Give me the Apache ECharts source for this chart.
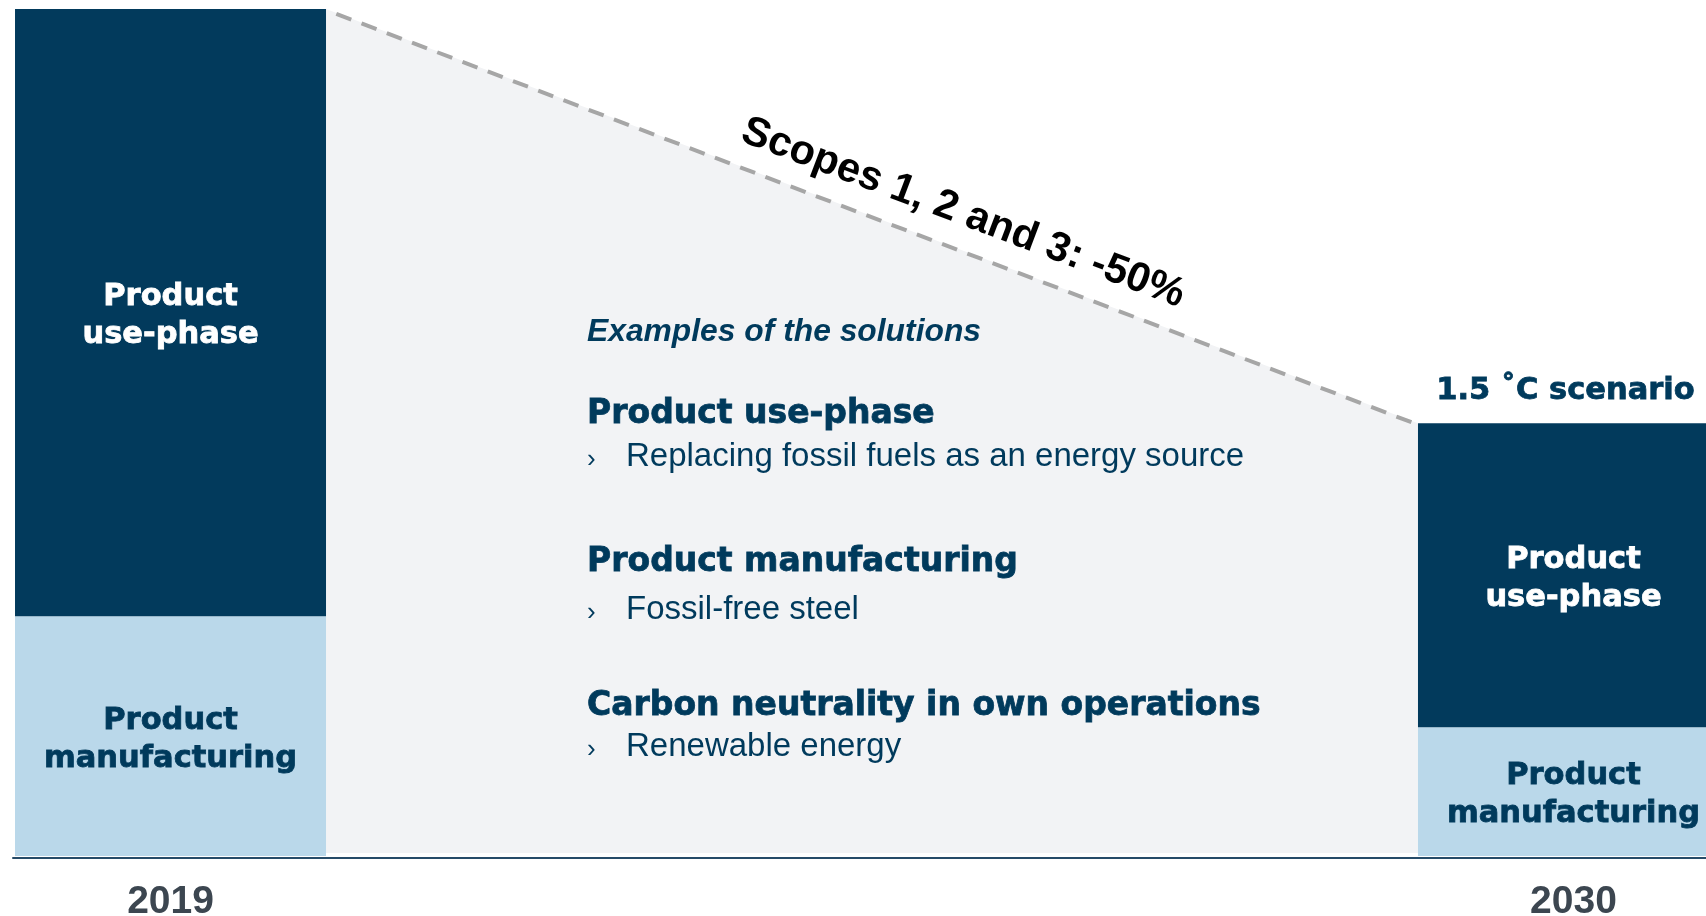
<!DOCTYPE html>
<html>
<head>
<meta charset="utf-8">
<script src="https://cdn.jsdelivr.net/npm/echarts@6/dist/echarts.min.js"></script>
<style>
html,body{margin:0;padding:0;background:#ffffff;}
#chart{width:1706px;height:916px;}
</style>
</head>
<body>
<div id="chart"></div>
<script>
// ---- data ----
const years = [2019, 2030];
const manufacturing = [28.3, 15.2];
const usePhase = [71.7, 35.9];
const seriesNames = ['Product manufacturing', 'Product use-phase'];
const barLabels = ['Product\nmanufacturing', 'Product\nuse-phase'];
const reductionLabel = 'Scopes 1, 2 and 3: -50%';
const scenarioLabel = '1.5 \u02DAC scenario';
const solutionsTitle = 'Examples of the solutions';
const solutionHeadings = ['Product use-phase', 'Product manufacturing', 'Carbon neutrality in own operations'];
const solutionItems = ['Replacing fossil fuels as an energy source', 'Fossil-free steel', 'Renewable energy'];

// ---- style ----
const NAVY = '#023A5C';
const LIGHT = '#BAD8EA';
const GRAY = '#F2F3F5';
const TEXT = '#003A5C';
const BAR_W = 311;
const HEAVY = '"DejaVu Sans", Verdana, sans-serif';
const SANS = '"Liberation Sans", Arial, Helvetica, sans-serif';

const totals = years.map((y, i) => manufacturing[i] + usePhase[i]);

const chart = echarts.init(document.getElementById('chart'), null, {renderer: 'canvas'});

const barLabelBase = {
  show: true,
  position: 'inside',
  offset: [0, 3.5],
  fontFamily: HEAVY,
  fontWeight: 'bold',
  fontSize: 30.5,
  lineHeight: 38,
  textBorderWidth: 0.8
};

// middle text block
const headingY = [414, 562, 706];
const itemY = [457, 610, 747];
const graphicEls = [{
  type: 'text', x: 587, y: 332, z: 100,
  style: {text: solutionsTitle, fill: TEXT, fontFamily: SANS, fontWeight: 'bold', fontStyle: 'italic', fontSize: 31.8, align: 'left', verticalAlign: 'middle'}
}];
solutionHeadings.forEach((h, i) => {
  graphicEls.push({
    type: 'text', x: 587, y: headingY[i], z: 100,
    style: {text: h, fill: TEXT, stroke: TEXT, lineWidth: 0.8, fontFamily: HEAVY, fontWeight: 'bold', fontSize: 33, align: 'left', verticalAlign: 'middle'}
  });
  graphicEls.push({
    type: 'text', x: 587, y: itemY[i] + 3, z: 100,
    style: {text: '\u203A', fill: TEXT, fontFamily: SANS, fontSize: 26, align: 'left', verticalAlign: 'middle'}
  });
  graphicEls.push({
    type: 'text', x: 626, y: itemY[i], z: 100,
    style: {text: solutionItems[i], fill: TEXT, fontFamily: SANS, fontSize: 33, align: 'left', verticalAlign: 'middle'}
  });
});

const option = {
  animation: false,
  backgroundColor: '#ffffff',
  grid: {left: 13, right: 0, top: 9, bottom: 60, containLabel: false, outerBoundsMode: 'none'},
  xAxis: {
    type: 'value',
    min: 2017.765,
    max: 2031.039,
    offset: 2,
    axisLine: {show: true, onZero: false, lineStyle: {color: '#264B68', width: 2}},
    axisTick: {show: false},
    splitLine: {show: false},
    axisLabel: {
      customValues: years,
      formatter: v => String(v),
      fontFamily: SANS,
      fontWeight: 'bold',
      fontSize: 39,
      lineHeight: 39,
      color: '#3C4650',
      margin: 25
    }
  },
  yAxis: {type: 'value', min: 0, max: 100, show: false},
  graphic: {elements: graphicEls},
  series: [
    {
      type: 'custom',
      name: 'reduction',
      silent: true,
      z: 1,
      data: [[years[0], totals[0], years[1], totals[1]]],
      renderItem: function (params, api) {
        const a = api.coord([api.value(0), api.value(1)]);
        const b = api.coord([api.value(2), api.value(3)]);
        const base = api.coord([api.value(0), 0])[1];
        const hw = BAR_W / 2;
        const x1 = a[0] + hw, y1 = a[1];
        const x2 = b[0] - hw, y2 = b[1];
        const ang = Math.atan2(y2 - y1, x2 - x1);
        const t = 0.572;
        const px = x1 + (x2 - x1) * t, py = y1 + (y2 - y1) * t;
        const off = 35;
        const tx = px + off * Math.sin(ang), ty = py - off * Math.cos(ang);
        return {
          type: 'group',
          children: [
            {type: 'polygon', shape: {points: [[x1, y1], [x2, y2], [x2, base - 3], [x1, base - 3]]}, style: {fill: GRAY}},
            {type: 'line', shape: {x1: x1, y1: y1 + 1, x2: x2 - 4, y2: y2}, style: {stroke: '#A6A6A6', lineWidth: 4, lineDash: [16, 11], lineDashOffset: 16}},
            {type: 'text', x: tx, y: ty, rotation: -ang,
              style: {text: reductionLabel, fill: '#000000', fontFamily: SANS, fontWeight: 'bold', fontSize: 41.5, align: 'center', verticalAlign: 'middle'}},
            {type: 'text', x: b[0] - 8, y: b[1] - 32,
              style: {text: scenarioLabel, fill: TEXT, stroke: TEXT, lineWidth: 0.8, fontFamily: HEAVY, fontWeight: 'bold', fontSize: 30.5, align: 'center', verticalAlign: 'middle'}}
          ]
        };
      }
    },
    {
      name: seriesNames[0],
      type: 'bar',
      stack: 'total',
      barWidth: BAR_W,
      z: 2,
      dimensions: ['value', 'year'],
      encode: {x: 'year', y: 'value'},
      data: years.map((y, i) => [manufacturing[i], y]),
      itemStyle: {color: LIGHT},
      label: Object.assign({}, barLabelBase, {formatter: barLabels[0], color: TEXT, textBorderColor: TEXT})
    },
    {
      name: seriesNames[1],
      type: 'bar',
      stack: 'total',
      barWidth: BAR_W,
      z: 2,
      dimensions: ['value', 'year'],
      encode: {x: 'year', y: 'value'},
      data: years.map((y, i) => [usePhase[i], y]),
      itemStyle: {color: NAVY},
      label: Object.assign({}, barLabelBase, {formatter: barLabels[1], color: '#ffffff', textBorderColor: '#ffffff'})
    }
  ]
};
chart.setOption(option);
</script>
</body>
</html>
